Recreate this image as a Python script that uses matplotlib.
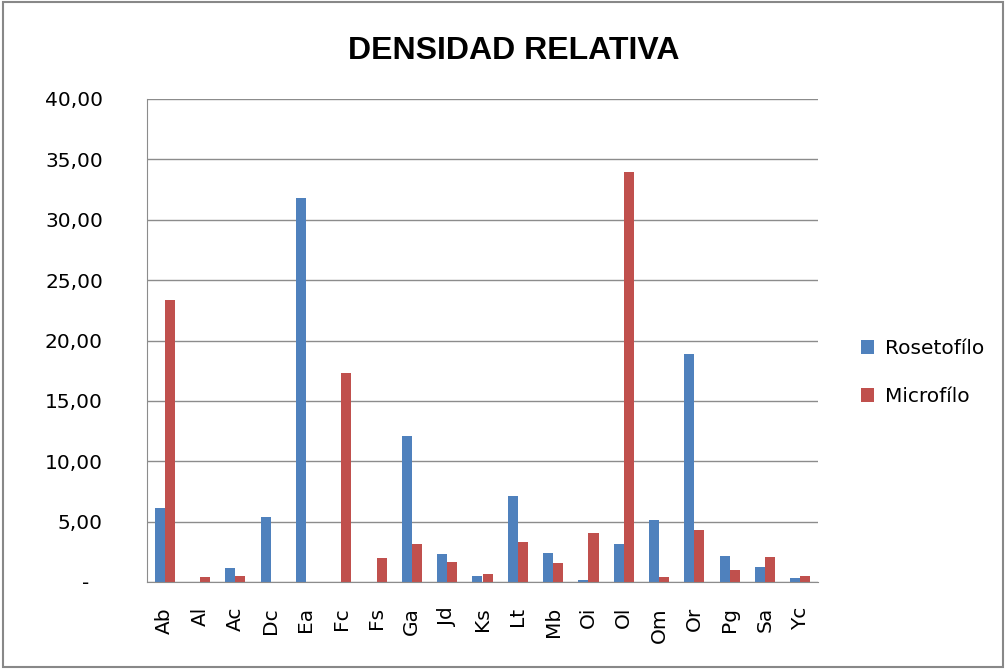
import matplotlib
matplotlib.use("Agg")
import matplotlib.pyplot as plt
import numpy as np
from matplotlib.patches import Rectangle
from matplotlib.transforms import ScaledTranslation

categories = ["Ab", "Al", "Ac", "Dc", "Ea", "Fc", "Fs", "Ga", "Jd", "Ks",
              "Lt", "Mb", "Oi", "Ol", "Om", "Or", "Pg", "Sa", "Yc"]
rosetofilo = [6.13, 0.0, 1.13, 5.36, 31.8, 0.0, 0.0, 12.1, 2.29, 0.5,
              7.15, 2.37, 0.14, 3.12, 5.16, 18.88, 2.18, 1.24, 0.36]
microfilo = [23.35, 0.39, 0.5, 0.0, 0.0, 17.3, 1.96, 3.12, 1.63, 0.69,
             3.34, 1.55, 4.08, 33.95, 0.39, 4.28, 1.02, 2.07, 0.5]
yticks = [0, 5, 10, 15, 20, 25, 30, 35, 40]
ytick_labels = ["-", "5,00", "10,00", "15,00", "20,00", "25,00", "30,00", "35,00", "40,00"]

blue = "#4F81BD"
red = "#C0504D"

fig = plt.figure(figsize=(10.06, 6.69), dpi=100)
fig.patches.append(Rectangle((0.003, 0.003), 0.994, 0.994, transform=fig.transFigure,
                             fill=False, edgecolor="#888888", linewidth=1.5))
ax = fig.add_axes([147/1006, 1 - 582/669, (818-147)/1006, (582-99)/669])

x = np.arange(len(categories))
w = 0.286
ax.bar(x - w/2, rosetofilo, w, color=blue, label="Rosetofílo")
ax.bar(x + w/2, microfilo, w, color=red, label="Microfílo")

ax.set_xlim(-0.5, len(categories) - 0.5)
ax.set_ylim(0, 40)
ax.set_yticks(yticks)
ax.set_yticklabels(ytick_labels, fontsize=14.5)
ax.set_xticks(x)
ax.set_xticklabels(categories, rotation=90, fontsize=14.5)
ax.yaxis.grid(True, color="#8c8c8c", linewidth=1)
ax.set_axisbelow(True)
for s in ["top", "right"]:
    ax.spines[s].set_visible(False)
for s in ["left", "bottom"]:
    ax.spines[s].set_color("#8c8c8c")
ax.tick_params(axis="y", length=0, pad=31.7)
ax.tick_params(axis="x", length=0, pad=18)
# Excel accounting style: the "-" for zero sits left of the right edge
lbl0 = ax.get_yticklabels()[0]
lbl0.set_transform(lbl0.get_transform() + ScaledTranslation(-0.14, 0, fig.dpi_scale_trans))

fig.text(0.511, 1 - 51/669, "DENSIDAD RELATIVA", ha="center", va="center",
         fontsize=23, fontweight="bold", family="Liberation Sans")
ax.legend(loc="center left", bbox_to_anchor=(1.037, 0.5 - (372-340)/483), frameon=False,
          fontsize=14.5, handlelength=0.65, handleheight=0.65, labelspacing=1.45,
          handletextpad=0.55)

fig.savefig("out.png", dpi=100)
